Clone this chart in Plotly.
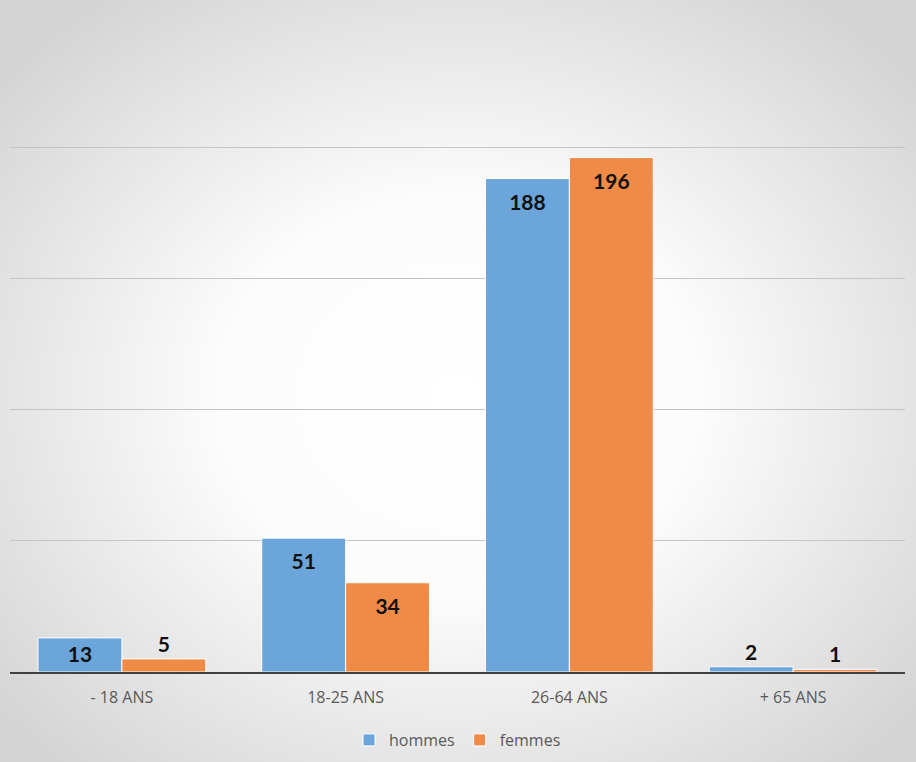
import plotly.graph_objects as go

categories = ["- 18 ANS", "18-25 ANS", "26-64 ANS", "+ 65 ANS"]
hommes = [13, 51, 188, 2]
femmes = [5, 34, 196, 1]
series_names = ["hommes", "femmes"]
y_ticks = [0, 50, 100, 150, 200]

blue = "#6CA5DA"
orange = "#EF8B46"

W, H = 916, 762
ML, MR, MT, MB = 10, 11, 146, 90
PW, PH = W - ML - MR, H - MT - MB

bg_svg = (
    "data:image/svg+xml;utf8,"
    "<svg xmlns='http://www.w3.org/2000/svg' width='916' height='762' preserveAspectRatio='none'>"
    "<defs><radialGradient id='g' cx='50%' cy='52%' r='65%'>"
    "<stop offset='0%' stop-color='%23ffffff'/>"
    "<stop offset='40%' stop-color='%23fcfcfc'/>"
    "<stop offset='100%' stop-color='%23d4d4d4'/>"
    "</radialGradient></defs>"
    "<rect width='916' height='762' fill='url(%23g)'/></svg>"
)


def positions(vals):
    return ["inside" if v >= 10 else "outside" for v in vals]


def labels(vals):
    return [("<span style='font-size:1px'> </span><br>" + str(v)) if v >= 30 else str(v) for v in vals]


fig = go.Figure()
for name, vals, col in [(series_names[0], hommes, blue), (series_names[1], femmes, orange)]:
    fig.add_trace(go.Bar(
        x=categories, y=vals, name=name,
        marker=dict(color=col, line=dict(color="white", width=1)),
        text=labels(vals),
        textposition=positions(vals),
        insidetextanchor="end",
        textfont=dict(family="Lato, Open Sans, sans-serif", size=21, color="#111111", weight="bold"),
        cliponaxis=False,
    ))

fig.update_layout(
    width=W, height=H,
    margin=dict(l=ML, r=MR, t=MT, b=MB),
    paper_bgcolor="rgba(0,0,0,0)",
    plot_bgcolor="rgba(0,0,0,0)",
    barmode="group",
    bargap=0.25,
    bargroupgap=0,
    images=[dict(source=bg_svg, xref="paper", yref="paper",
                 x=-ML / PW, y=1 + MT / PH, sizex=W / PW, sizey=H / PH,
                 xanchor="left", yanchor="top", layer="below", sizing="stretch")],
    font=dict(family="Open Sans, sans-serif", color="#595959"),
    showlegend=True,
    legend=dict(orientation="h", x=0.5, xanchor="center",
                yref="container", y=(H - 740) / H, yanchor="middle",
                font=dict(size=16, color="#595959"), itemwidth=30,
                bgcolor="rgba(0,0,0,0)"),
    xaxis=dict(showline=True, linecolor="#404040", linewidth=2, ticks="",
               ticklabelstandoff=10,
               tickfont=dict(size=16, color="#595959"), showgrid=False),
    yaxis=dict(range=[0, 200.4], tickvals=y_ticks, showticklabels=False, showgrid=True,
               gridcolor="#c4c4c4", gridwidth=1, zeroline=False, showline=False),
)

fig.write_html("out.html", config={"displayModeBar": False},
               post_script="document.body.style.margin='0';document.body.style.overflow='hidden';")
